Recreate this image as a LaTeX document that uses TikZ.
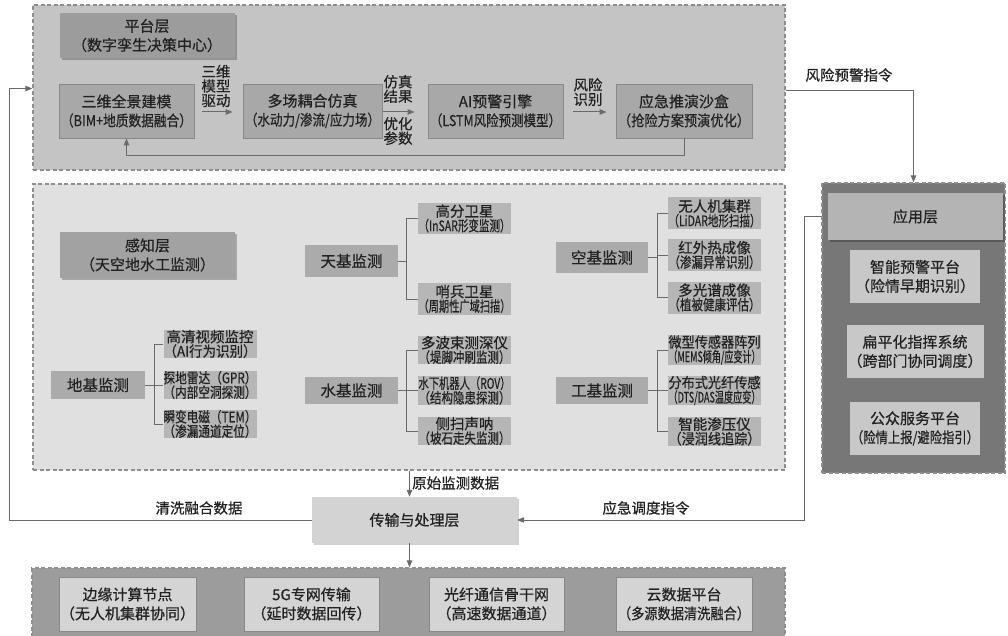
\documentclass[tikz,border=0pt]{standalone}
\usepackage{fontspec}
\setmainfont{Noto Sans CJK SC}[FakeBold=0.6]
\usepackage{graphicx}
\usetikzlibrary{arrows.meta,shadows}
\newlength\fitwd
\newcommand\fitto[2]{\settowidth\fitwd{#2}\ifdim\fitwd>#1\relax\resizebox{#1}{\height}{#2}\else #2\fi}
\definecolor{platfill}{HTML}{C4C4C4}
\definecolor{rowfill}{HTML}{A8A8A8}
\definecolor{hdrfill}{HTML}{9C9C9C}
\definecolor{percfill}{HTML}{E0E0E0}
\definecolor{perchdr}{HTML}{A2A2A2}
\definecolor{monfill}{HTML}{ABABAB}
\definecolor{subfill}{HTML}{B6B6B6}
\definecolor{appfill}{HTML}{777777}
\definecolor{apphdr}{HTML}{B4B4B4}
\definecolor{appbox}{HTML}{C8C8C8}
\definecolor{tpfill}{HTML}{D3D3D3}
\definecolor{botfill}{HTML}{9C9C9C}
\definecolor{botbox}{HTML}{D4D4D4}
\definecolor{linec}{HTML}{6A6A6A}
\definecolor{dashc}{HTML}{8E8E8E}
\definecolor{boxline}{HTML}{888888}
\definecolor{txt}{HTML}{222222}
\tikzset{
  layer/.style={rectangle, draw=dashc, dash pattern=on 4pt off 2.5pt, line width=1.3pt, inner sep=0pt},
  basebox/.style={rectangle, inner sep=1pt, align=center, text=txt, font=\fontsize{15}{19}\selectfont},
  hdr/.style={basebox, drop shadow={shadow xshift=2pt, shadow yshift=-2pt, fill=black, opacity=0.25}},
  rowbox/.style={basebox, fill=rowfill, draw=boxline, line width=0.8pt, minimum height=54pt},
  mon/.style={basebox, fill=monfill, font=\fontsize{15.5}{19}\selectfont},
  subbox/.style={basebox, fill=subfill, minimum width=93pt, inner sep=0pt, font=\fontsize{14.5}{14.5}\selectfont},
  appin/.style={basebox, fill=appbox, minimum width=130pt, minimum height=53pt},
  botin/.style={basebox, fill=botbox, draw=boxline, line width=0.8pt, minimum height=54pt},
  lbl/.style={align=center, text=txt, inner sep=0pt, font=\fontsize{14.5}{14.5}\selectfont},
  conn/.style={draw=linec, line width=1pt},
  arr/.style={draw=linec, line width=1pt, -{Triangle[length=7pt,width=5.5pt]}},
}
\begin{document}
\begin{tikzpicture}[x=1pt,y=-1pt]
\useasboundingbox (0,0) rectangle (1008,636);
% ---------- layers ----------
\node[layer, fill=platfill, minimum width=752pt, minimum height=165pt] (plat) at (409,87.5) {};
\node[layer, fill=percfill, minimum width=752pt, minimum height=286pt] (perc) at (409,327) {};
\node[layer, fill=appfill, minimum width=183pt, minimum height=290pt] (app) at (913.5,328) {};
\node[layer, fill=botfill, minimum width=753pt, minimum height=80pt] (bot) at (408.5,608) {};
% ---------- platform layer ----------
\node[hdr, fill=hdrfill, minimum width=175pt, minimum height=45pt] (plath) at (147,35.5) {平台层\\（数字孪生决策中心）};
\node[rowbox, minimum width=135pt] (b1) at (126.5,111) {\fitto{131pt}{三维全景建模}\\\fitto{131pt}{（BIM+地质数据融合）}};
\node[rowbox, minimum width=139pt] (b2) at (312.5,111) {\fitto{135pt}{多场耦合仿真}\\\fitto{135pt}{（水动力/渗流/应力场）}};
\node[rowbox, minimum width=135pt] (b3) at (495.5,111) {\fitto{131pt}{AI预警引擎}\\\fitto{131pt}{（LSTM风险预测模型）}};
\node[rowbox, minimum width=136pt] (b4) at (684,111) {\fitto{132pt}{应急推演沙盒}\\\fitto{132pt}{（抢险方案预演优化）}};
\node[lbl] (l1) at (216,86) {三维\\模型\\驱动};
\node[lbl] (l2) at (398,89) {仿真\\结果};
\node[lbl] (l3) at (398,131) {优化\\参数};
\node[lbl] (l4) at (588,92) {风险\\识别};
\draw[arr, shorten <=8pt, shorten >=10pt] (b1.east |- 0,112) -- (b2.west |- 0,112);
\draw[arr, shorten <=1pt, shorten >=13pt] (b2.east |- 0,112) -- (b3.west |- 0,112);
\draw[arr, shorten <=10pt, shorten >=9pt] (b3.east |- 0,112) -- (b4.west |- 0,112);
\draw[arr] (b4.south) -- ++(0,17) -| (b1.south);
% ---------- perception layer ----------
\node[hdr, fill=perchdr, minimum width=175pt, minimum height=46pt] (perch) at (147.5,255) {感知层\\（天空地水工监测）};
% ground
\node[mon, minimum width=94pt, minimum height=28pt] (gnd) at (98,385) {地基监测};
\node[subbox, minimum height=28pt] (g1) at (210,344) {\fitto{93pt}{高清视频监控}\\\fitto{93pt}{（AI行为识别）}};
\node[subbox, minimum height=28pt] (g2) at (210,385) {\fitto{93pt}{探地雷达（GPR）}\\\fitto{93pt}{（内部空洞探测）}};
\node[subbox, minimum height=28pt] (g3) at (210,424) {\fitto{93pt}{瞬变电磁（TEM）}\\\fitto{93pt}{（渗漏通道定位）}};
% sky
\node[mon, minimum width=93pt, minimum height=32pt] (sky) at (351.5,261) {天基监测};
\node[subbox, minimum height=31pt] (s1) at (464.5,218.5) {\fitto{92pt}{高分卫星}\\\fitto{92pt}{（InSAR形变监测）}};
\node[subbox, minimum height=32pt] (s2) at (464.5,299) {\fitto{92pt}{哨兵卫星}\\\fitto{92pt}{（周期性广域扫描）}};
% water
\node[mon, minimum width=93pt, minimum height=27pt] (wat) at (351.5,390.5) {水基监测};
\node[subbox, minimum height=28pt] (w1) at (464.5,350) {\fitto{92pt}{多波束测深仪}\\\fitto{92pt}{（堤脚冲刷监测）}};
\node[subbox, minimum height=28pt] (w2) at (464.5,390.5) {\fitto{92pt}{水下机器人（ROV）}\\\fitto{92pt}{（结构隐患探测）}};
\node[subbox, minimum height=28pt] (w3) at (464.5,431) {\fitto{92pt}{侧扫声呐}\\\fitto{92pt}{（坡石走失监测）}};
% air
\node[mon, minimum width=92pt, minimum height=31pt] (air) at (602,257.5) {空基监测};
\node[subbox, minimum height=32pt] (a1) at (714.5,213.5) {\fitto{92pt}{无人机集群}\\\fitto{92pt}{（LiDAR地形扫描）}};
\node[subbox, minimum height=32pt] (a2) at (714.5,255) {\fitto{92pt}{红外热成像}\\\fitto{92pt}{（渗漏异常识别）}};
\node[subbox, minimum height=32pt] (a3) at (714.5,297.5) {\fitto{92pt}{多光谱成像}\\\fitto{92pt}{（植被健康评估）}};
% engineering
\node[mon, minimum width=92pt, minimum height=27pt] (eng) at (602,390.5) {工基监测};
\node[subbox, minimum height=28pt] (e1) at (714.5,350) {\fitto{92pt}{微型传感器阵列}\\\fitto{92pt}{（MEMS倾角/应变计）}};
\node[subbox, minimum height=28pt] (e2) at (714.5,390.5) {\fitto{92pt}{分布式光纤传感}\\\fitto{92pt}{（DTS/DAS温度应变）}};
\node[subbox, minimum height=29pt] (e3) at (714.5,431.5) {\fitto{92pt}{智能渗压仪}\\\fitto{92pt}{（浸润线追踪）}};
% brackets
\coordinate (gx) at ([xshift=-9pt]g1.west);
\draw[conn] (g1.west) -- (g1.west -| gx) -- (g3.west -| gx) -- (g3.west);
\draw[conn] (gnd.east) -- (gnd.east -| gx);
\draw[conn] (g2.west) -- (g2.west -| gx);
\coordinate (sx) at ([xshift=-11pt]s1.west);
\draw[conn] (s1.west) -- (s1.west -| sx) -- (s2.west -| sx) -- (s2.west);
\draw[conn] (sky.east) -- (sky.east -| sx);
\coordinate (wx) at ([xshift=-11pt]w1.west);
\draw[conn] (w1.west) -- (w1.west -| wx) -- (w3.west -| wx) -- (w3.west);
\draw[conn] (wat.east) -- (wat.east -| wx);
\draw[conn] (w2.west) -- (w2.west -| wx);
\coordinate (ax) at ([xshift=-10pt]a1.west);
\draw[conn] (a1.west) -- (a1.west -| ax) -- (a3.west -| ax) -- (a3.west);
\draw[conn] (air.east) -- (air.east -| ax);
\draw[conn] (a2.west) -- (a2.west -| ax);
\coordinate (ex) at ([xshift=-10pt]e1.west);
\draw[conn] (e1.west) -- (e1.west -| ex) -- (e3.west -| ex) -- (e3.west);
\draw[conn] (eng.east) -- (eng.east -| ex);
\draw[conn] (e2.west) -- (e2.west -| ex);
% ---------- application layer ----------
\node[hdr, fill=apphdr, minimum width=175pt, minimum height=47pt] (apph) at (915.5,216.5) {应用层};
\node[appin] (p1) at (915,276.5) {智能预警平台\\（险情早期识别）};
\node[appin] (p2) at (915,351.5) {扁平化指挥系统\\（跨部门协同调度）};
\node[appin] (p3) at (915,428.5) {\fitto{128pt}{公众服务平台}\\\fitto{128pt}{（险情上报/避险指引）}};
% ---------- transfer layer ----------
\node[basebox, fill=tpfill, minimum width=205pt, minimum height=46pt, drop shadow={shadow xshift=1.5pt, shadow yshift=-1.5pt, fill=black, opacity=0.18}] (tp) at (414.5,520) {传输与处理层};
% ---------- bottom layer ----------
\node[botin, minimum width=133pt] (n1) at (127.5,604) {边缘计算节点\\（无人机集群协同）};
\node[botin, minimum width=135pt] (n2) at (311.5,604) {5G专网传输\\（延时数据回传）};
\node[botin, minimum width=135pt] (n3) at (496.5,604) {光纤通信骨干网\\（高速数据通道）};
\node[botin, minimum width=136pt] (n4) at (684,604) {\fitto{132pt}{云数据平台}\\\fitto{132pt}{（多源数据清洗融合）}};
% ---------- connectors between layers ----------
\coordinate (rawx) at ([xshift=-5pt]tp.north);
\draw[arr] (rawx |- perc.south) -- (rawx);
\node[lbl, anchor=west] (lraw) at (412,483) {原始监测数据};
\draw[arr] ([xshift=-5pt]tp.south) -- ([xshift=-5pt]tp.south |- bot.north);
\draw[arr] (tp.west) -- ++(-302,0) |- ([yshift=-1pt]plat.west);
\node[lbl] (lclean) at (199,508) {清洗融合数据};
\draw[arr] (apph.west -| app.west) -- ++(-17,0) |- (tp.east);
\node[lbl] (lemer) at (646,508) {应急调度指令};
\draw[arr] ([yshift=-3.5pt]plat.east) -| (app.north);
\node[lbl] (lrisk) at (849,75) {风险预警指令};
\end{tikzpicture}
\end{document}
